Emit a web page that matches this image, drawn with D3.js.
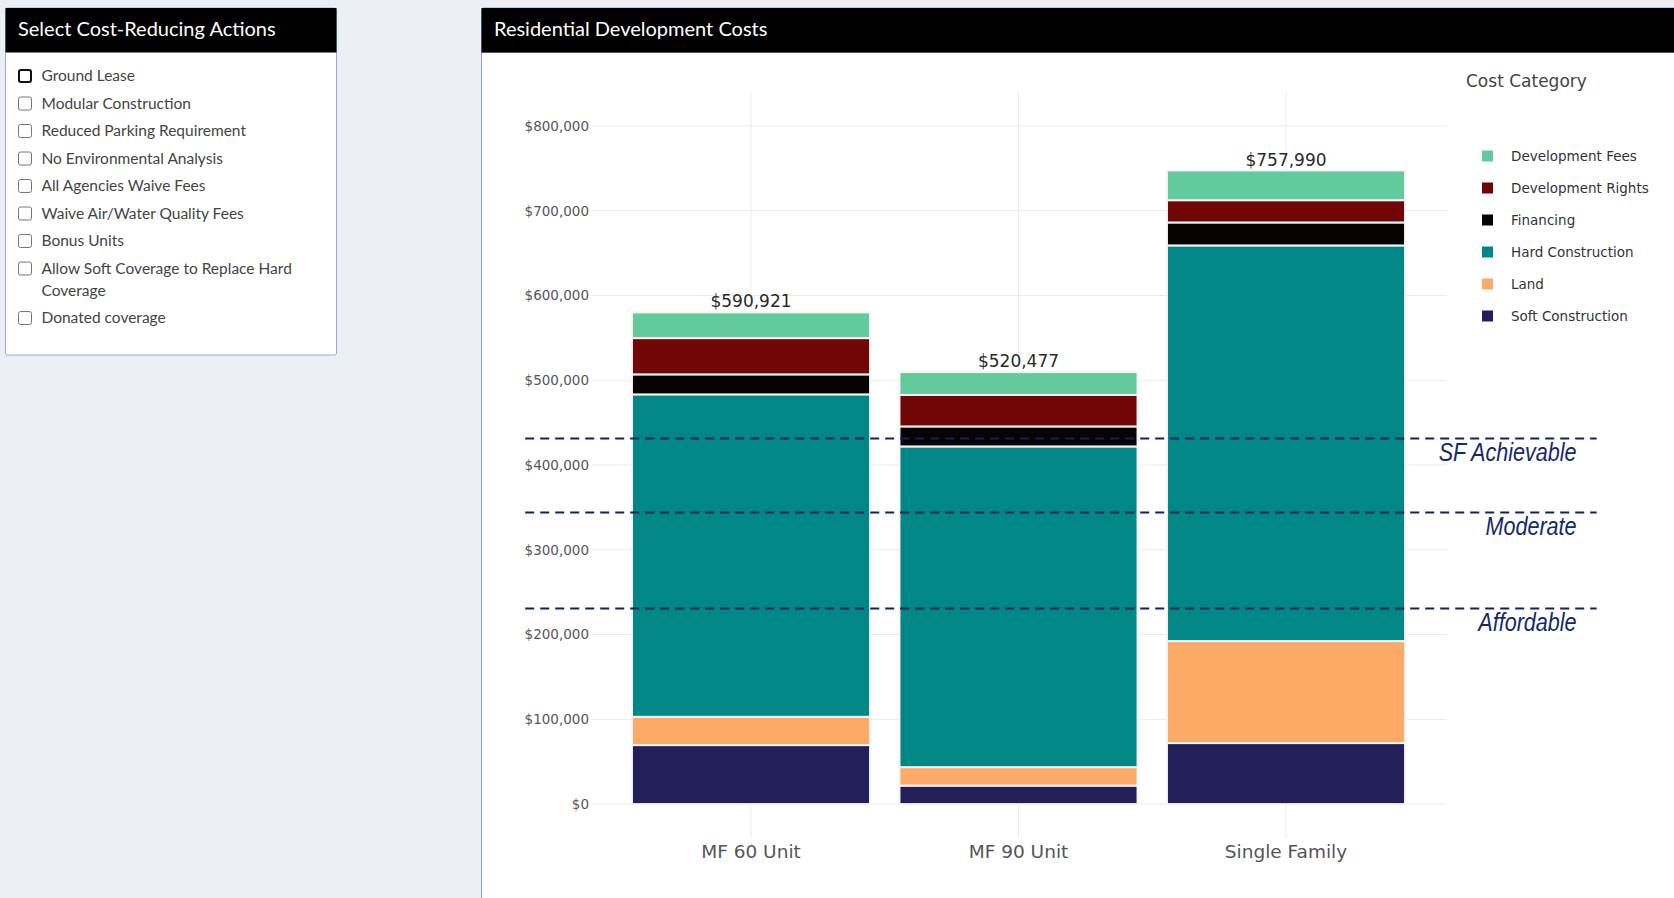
<!DOCTYPE html>
<html>
<head>
<meta charset="utf-8">
<script src="https://cdn.jsdelivr.net/npm/d3@7"></script>
<style>
  body { margin: 0; background: #ecf0f5; overflow: hidden; }
  svg { display: block; }
</style>
</head>
<body>
<div id="page"></div>
<script>
// ---- data ----
const actions = [
  "Ground Lease",
  "Modular Construction",
  "Reduced Parking Requirement",
  "No Environmental Analysis",
  "All Agencies Waive Fees",
  "Waive Air/Water Quality Fees",
  "Bonus Units",
  "Allow Soft Coverage to Replace Hard Coverage",
  "Donated coverage"
];

const projects = ["MF 60 Unit", "MF 90 Unit", "Single Family"];

const categories = [
  "Development Fees",
  "Development Rights",
  "Financing",
  "Hard Construction",
  "Land",
  "Soft Construction"
];
const categoryColors = ["#62ca9c", "#720505", "#070302", "#018786", "#fdaa67", "#231f5b"];

const devFees          = [30300, 26900, 35100];
const devRights        = [42800, 37200, 26300];
const financing        = [23600, 23600, 27100];
const hardConstruction = [380300, 378300, 466700];
const land             = [33400, 21800, 120300];
const softConstruction = [69600, 21800, 72000];

const totals = [590921, 520477, 757990];

const thresholdValues = [431400, 344100, 230800];
const thresholdLabels = ["SF Achievable", "Moderate", "Affordable"];

const yTicks = [0, 100000, 200000, 300000, 400000, 500000, 600000, 700000, 800000];

// ---- page ----
const W = 1674, H = 898;
const svg = d3.select("#page").append("svg")
  .attr("width", W)
  .attr("height", H);

const headFont = "'Source Sans Pro', Lato, 'Noto Sans', sans-serif";
const plotFont = "Verdana, 'DejaVu Sans', sans-serif";

// left panel with the actions
const side = svg.append("g");
side.append("rect")
  .attr("x", 5.5).attr("y", 8).attr("width", 331).attr("height", 347)
  .attr("rx", 2)
  .attr("fill", "#fff").attr("stroke", "#8db3d6");
side.append("rect")
  .attr("x", 5.5).attr("y", 8).attr("width", 331).attr("height", 44.5)
  .attr("fill", "#000");
side.append("text")
  .attr("x", 18).attr("y", 36)
  .attr("fill", "#fff")
  .style("font-family", headFont).style("font-size", "20px")
  .text("Select Cost-Reducing Actions");

let rowY = 76;
actions.forEach((a, i) => {
  const g = side.append("g");
  g.append("rect")
    .attr("x", i === 0 ? 19 : 18.5).attr("y", rowY - (i === 0 ? 6 : 6.5))
    .attr("width", i === 0 ? 12 : 13).attr("height", i === 0 ? 12 : 13)
    .attr("rx", 2)
    .attr("fill", "#fff")
    .attr("stroke", i === 0 ? "#101010" : "#767676")
    .attr("stroke-width", i === 0 ? 2 : 1);
  const t = g.append("text")
    .attr("x", 41.5).attr("y", rowY)
    .attr("dy", "0.35em")
    .attr("fill", "#444")
    .style("font-family", headFont).style("font-size", "15.5px");
  // simple word wrap at the panel width
  const words = a.split(" ");
  let line = [], tspan = t.append("tspan").attr("x", 41.5), lines = 1;
  words.forEach(w => {
    line.push(w);
    tspan.text(line.join(" "));
    if (tspan.node().getComputedTextLength() > 285 && line.length > 1) {
      line.pop();
      tspan.text(line.join(" "));
      line = [w];
      tspan = t.append("tspan").attr("x", 41.5).attr("dy", "22px").text(w);
      lines += 1;
    }
  });
  rowY += 27.5 + (lines - 1) * 22;
});

// chart panel
const panel = svg.append("g");
panel.append("rect")
  .attr("x", 481.5).attr("y", 8).attr("width", 1250).attr("height", 950)
  .attr("rx", 2)
  .attr("fill", "#fff").attr("stroke", "#7aa9d6");
panel.append("rect")
  .attr("x", 481.5).attr("y", 8).attr("width", 1250).attr("height", 44.5)
  .attr("fill", "#000");
panel.append("line")
  .attr("x1", 481.5).attr("x2", W).attr("y1", 52.5).attr("y2", 52.5)
  .attr("stroke", "#555");
panel.append("text")
  .attr("x", 494).attr("y", 36)
  .attr("fill", "#fff")
  .style("font-family", headFont).style("font-size", "20px")
  .text("Residential Development Costs");

// ---- scales ----
const plot = { left: 592, right: 1447, top: 92, bottom: 838 };

const x = d3.scaleBand()
  .domain(projects)
  .range([617.25, 1419.75])
  .paddingInner(0.11)
  .paddingOuter(0.055);

// continuous version of the category axis, used for lines that run past the plot
const xPos = d3.scaleLinear()
  .domain([-0.6, 2.6])
  .range([plot.left, plot.right]);

const y = d3.scaleLinear()
  .domain([-40000, 840000])
  .range([plot.bottom, plot.top]);

const color = d3.scaleOrdinal().domain(categories).range(categoryColors);

// ---- grid ----
const chart = svg.append("g");

chart.append("g")
  .selectAll("line")
  .data(yTicks)
  .join("line")
  .attr("x1", plot.left).attr("x2", plot.right)
  .attr("y1", d => y(d)).attr("y2", d => y(d))
  .attr("stroke", "#ebebeb").attr("stroke-width", 1);

chart.append("g")
  .selectAll("line")
  .data(projects)
  .join("line")
  .attr("x1", d => x(d) + x.bandwidth() / 2).attr("x2", d => x(d) + x.bandwidth() / 2)
  .attr("y1", plot.top).attr("y2", plot.bottom)
  .attr("stroke", "#ebebeb").attr("stroke-width", 1);

// ---- stacked bars ----
const seriesByCat = {
  "Development Fees": devFees,
  "Development Rights": devRights,
  "Financing": financing,
  "Hard Construction": hardConstruction,
  "Land": land,
  "Soft Construction": softConstruction
};
const rows = projects.map((p, i) => {
  const r = { project: p };
  categories.forEach(c => { r[c] = seriesByCat[c][i]; });
  return r;
});

// bottom of the stack is Soft Construction, top is Development Fees
const stack = d3.stack().keys(categories.slice().reverse());
const stacked = stack(rows);

chart.append("g")
  .selectAll("g")
  .data(stacked)
  .join("g")
  .attr("fill", d => color(d.key))
  .selectAll("rect")
  .data(d => d)
  .join("rect")
  .attr("x", d => x(d.data.project))
  .attr("width", x.bandwidth())
  .attr("y", d => y(d[1]))
  .attr("height", d => y(d[0]) - y(d[1]))
  .attr("stroke", "#f4f4f4")
  .attr("stroke-width", 2);

// totals above bars
chart.append("g")
  .selectAll("text")
  .data(projects)
  .join("text")
  .attr("x", d => x(d) + x.bandwidth() / 2)
  .attr("y", (d, i) => y(totals[i]) + 4)
  .attr("text-anchor", "middle")
  .attr("fill", "#2a2a2a")
  .style("font-family", plotFont).style("font-size", "17px")
  .text((d, i) => d3.format("$,")(totals[i]));

// ---- axes ----
const yAxis = chart.append("g")
  .attr("transform", `translate(${plot.left},0)`)
  .call(d3.axisLeft(y).tickValues(yTicks).tickSize(0).tickPadding(3).tickFormat(d3.format("$,")));
yAxis.select(".domain").remove();
yAxis.selectAll("text")
  .attr("fill", "#555")
  .style("font-family", plotFont).style("font-size", "13.5px");

const xAxis = chart.append("g")
  .attr("transform", `translate(0,${plot.bottom})`)
  .call(d3.axisBottom(x).tickSize(0).tickPadding(7));
xAxis.select(".domain").remove();
xAxis.selectAll("text")
  .attr("fill", "#555")
  .style("font-family", plotFont).style("font-size", "18.5px");

// ---- threshold lines ----
const lineFont = "'Liberation Sans', Arial, sans-serif";
const th = chart.append("g");
th.selectAll("line")
  .data(thresholdValues)
  .join("line")
  .attr("x1", xPos(-0.85)).attr("x2", xPos(3.16))
  .attr("y1", d => y(d)).attr("y2", d => y(d))
  .attr("stroke", "#0d2461")
  .attr("stroke-width", 2)
  .attr("stroke-dasharray", "9,6");
// narrow italic look: regular italic squeezed horizontally
th.selectAll("text")
  .data(thresholdValues)
  .join("text")
  .attr("transform", d => `translate(${xPos(3.085)},${y(d) + 23}) scale(0.83,1)`)
  .attr("text-anchor", "end")
  .attr("fill", "#14296b")
  .style("font-family", lineFont).style("font-style", "italic").style("font-size", "26px")
  .text((d, i) => thresholdLabels[i]);

// ---- legend ----
const legend = chart.append("g");
legend.append("text")
  .attr("x", 1466).attr("y", 87)
  .attr("fill", "#444")
  .style("font-family", plotFont).style("font-size", "17px")
  .text("Cost Category");

const items = legend.selectAll("g.item")
  .data(categories)
  .join("g")
  .attr("class", "item")
  .attr("transform", (d, i) => `translate(1482,${156 + i * 32})`);
items.append("rect")
  .attr("x", 0).attr("y", -5.5)
  .attr("width", 11).attr("height", 11)
  .attr("fill", d => color(d));
items.append("text")
  .attr("x", 29).attr("y", 0)
  .attr("dy", "0.35em")
  .attr("fill", "#333")
  .style("font-family", plotFont).style("font-size", "13.5px")
  .text(d => d);
</script>
</body>
</html>
